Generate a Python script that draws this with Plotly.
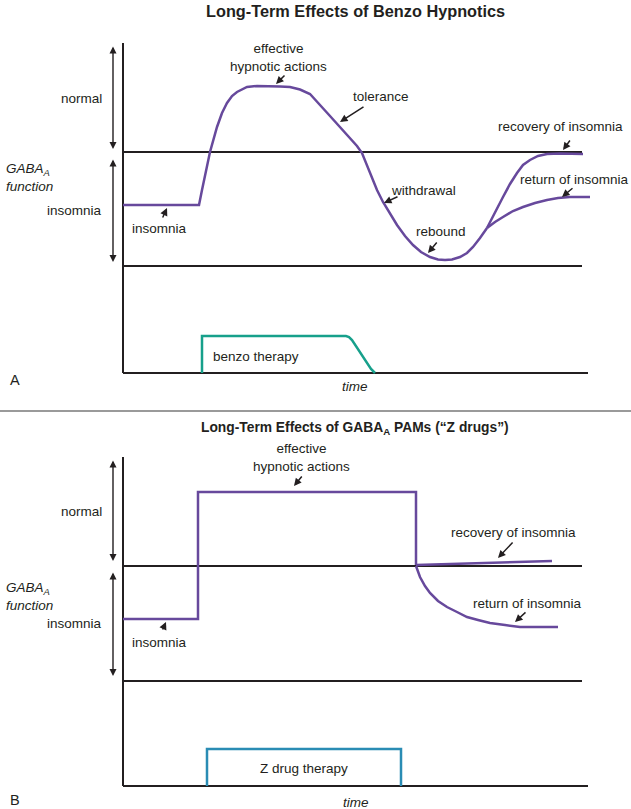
import plotly.graph_objects as go

# ---------------- data (time units, GABA-A function level units) ----------------
# Panel A : benzo hypnotics
a_time = [0, 76, 79, 82, 87, 94, 99, 104, 109, 114, 124, 134, 144, 157, 167, 177, 187,
          192, 197, 207, 217, 227, 234, 239, 243, 249, 254, 260, 267, 274, 282, 290,
          298, 307, 315, 322, 329, 337, 344, 350, 357, 364]
a_level = [61, 61, 76, 89, 114, 139, 153, 163, 170, 174, 179, 180, 180, 179.5, 179, 176.5, 172,
           167, 161, 150, 139, 128, 120, 113, 103, 89, 76, 64, 52, 41, 30, 21,
           14, 9, 6.5, 6, 6.5, 9, 13, 19, 28, 38]
a_recovery_time = [364, 372, 380, 387, 394, 400, 407, 415, 424, 437, 460]
a_recovery_level = [38, 54, 69, 82, 93, 101, 106, 110, 112, 112.5, 112]
a_return_time = [364, 372, 380, 390, 400, 412, 424, 435, 447, 467]
a_return_level = [38, 44, 49, 55, 59, 63, 66, 68, 69, 69]
a_therapy_time = [79, 79, 223, 226, 229, 233, 237, 241, 245, 248, 252]
a_therapy_level = [-107, -70, -70, -71, -74, -80, -87, -93, -99, -103, -107]
A_NORMAL, A_FLOOR, A_BASE, A_TOP = 114, 0, -107, 223

# Panel B : GABA-A PAMs ("Z drugs")
b_time = [0, 75, 75, 293, 293]
b_level = [62, 62, 189, 189, 116]
b_recovery_time = [293, 429]
b_recovery_level = [116, 120]
b_return_time = [293, 297, 302, 307, 315, 324, 334, 344, 355, 367, 382, 397, 435]
b_return_level = [115, 104, 95, 88, 80, 74, 69, 64, 61, 58, 56, 54, 54]
b_therapy_time = [84, 84, 278, 278]
b_therapy_level = [-105, -68, -68, -105]
B_NORMAL, B_FLOOR, B_BASE, B_TOP = 115, 0, -105, 224

T_LINE_END, T_BASE_END = 459, 465

PURPLE = '#67499c'
GREEN = '#17a08b'
BLUE = '#2a8cb4'
BLACK = '#231f20'
FONT = 'Liberation Sans, Arial, Helvetica, sans-serif'

fig = go.Figure()


def line(x, y, color, width, xa, ya):
    fig.add_trace(go.Scatter(x=x, y=y, mode='lines', xaxis=xa, yaxis=ya,
                             line=dict(color=color, width=width),
                             hoverinfo='skip', showlegend=False))


for xa, ya, normal, floor, base, top in [('x', 'y', A_NORMAL, A_FLOOR, A_BASE, A_TOP),
                                         ('x2', 'y2', B_NORMAL, B_FLOOR, B_BASE, B_TOP)]:
    line([0, 0], [base, top], BLACK, 2, xa, ya)
    line([0, T_LINE_END], [normal, normal], BLACK, 2, xa, ya)
    line([0, T_LINE_END], [floor, floor], BLACK, 2, xa, ya)
    line([0, T_BASE_END], [base, base], BLACK, 2, xa, ya)

line(a_therapy_time, a_therapy_level, GREEN, 2.5, 'x', 'y')
line(a_time, a_level, PURPLE, 2.5, 'x', 'y')
line(a_recovery_time, a_recovery_level, PURPLE, 2.5, 'x', 'y')
line(a_return_time, a_return_level, PURPLE, 2.5, 'x', 'y')

line(b_therapy_time, b_therapy_level, BLUE, 2.5, 'x2', 'y2')
line(b_time, b_level, PURPLE, 2.5, 'x2', 'y2')
line(b_recovery_time, b_recovery_level, PURPLE, 2.5, 'x2', 'y2')
line(b_return_time, b_return_level, PURPLE, 2.5, 'x2', 'y2')

annotations = []


def text(xa, ya, x, y, s, size=13.5, xanchor='center', yanchor='middle', align='center'):
    annotations.append(dict(xref=xa, yref=ya, x=x, y=y, text=s, showarrow=False,
                            xanchor=xanchor, yanchor=yanchor, align=align,
                            font=dict(family=FONT, size=size, color=BLACK)))


def pointer(xa, ya, x0, y0, x1, y1):
    annotations.append(dict(xref=xa, yref=ya, axref=xa, ayref=ya, x=x1, y=y1, ax=x0, ay=y0,
                            text='', showarrow=True, arrowhead=2, arrowsize=1.0,
                            arrowwidth=1.5, arrowcolor=BLACK, standoff=0, startstandoff=0))


def double_arrow(xa, ya, x, y0, y1):
    annotations.append(dict(xref=xa, yref=ya, axref=xa, ayref=ya, x=x, y=y1, ax=x, ay=y0,
                            text='', showarrow=True, arrowhead=2, startarrowhead=2,
                            arrowside='end+start', arrowsize=1.0, startarrowsize=1.0,
                            arrowwidth=1.4, arrowcolor=BLACK, standoff=0, startstandoff=0))


# ----- Panel A labels -----
text('x', 'y', 232, 255, '<b>Long-Term Effects of Benzo Hypnotics</b>', size=16.3)
text('x', 'y', 155, 209, 'effective<br>hypnotic actions')
pointer('x', 'y', 163, 192, 153, 182)
text('x', 'y', 258, 170, 'tolerance')
pointer('x', 'y', 242, 160, 217, 144)
text('x', 'y', 437, 140, 'recovery of insomnia')
pointer('x', 'y', 448, 127, 440, 116)
text('x', 'y', 300, 76, 'withdrawal')
pointer('x', 'y', 276, 70, 261, 63)
text('x', 'y', 451, 87, 'return of insomnia')
pointer('x', 'y', 451, 79, 439, 69)
text('x', 'y', 318, 35, 'rebound')
pointer('x', 'y', 315, 25, 305, 13)
text('x', 'y', 36, 38, 'insomnia')
pointer('x', 'y', 39, 47, 44, 58)
text('x', 'y', -19, 168, 'normal', xanchor='right')
text('x', 'y', -19, 56, 'insomnia', xanchor='right')
text('x', 'y', -119, 89, '<i>GABA<sub>A</sub></i><br><i>function</i>', xanchor='left', align='left')
double_arrow('x', 'y', -10, 221, 117)
double_arrow('x', 'y', -10, 108, 4)
text('x', 'y', 88, -90, 'benzo therapy', xanchor='left')
text('x', 'y', -115, -114, 'A', size=14.5, xanchor='left')
text('x', 'y', 232, -120, '<i>time</i>')

# ----- Panel B labels -----
text('x2', 'y2', 232, 252, '<b>Long-Term Effects of GABA<sub>A</sub> PAMs (“Z drugs”)</b>', size=13.8)
text('x2', 'y2', 178, 223, 'effective<br>hypnotic actions')
pointer('x2', 'y2', 180, 206, 171, 195)
text('x2', 'y2', 390, 149, 'recovery of insomnia')
pointer('x2', 'y2', 391, 140, 375, 123)
text('x2', 'y2', 404, 78, 'return of insomnia')
pointer('x2', 'y2', 404, 70, 392, 59)
text('x2', 'y2', 36, 39, 'insomnia')
pointer('x2', 'y2', 39, 50, 43, 59)
text('x2', 'y2', -19, 169, 'normal', xanchor='right')
text('x2', 'y2', -19, 58, 'insomnia', xanchor='right')
text('x2', 'y2', -119, 85, '<i>GABA<sub>A</sub></i><br><i>function</i>', xanchor='left', align='left')
double_arrow('x2', 'y2', -10, 222, 120)
double_arrow('x2', 'y2', -10, 110, 5)
text('x2', 'y2', 181, -87, 'Z drug therapy')
text('x2', 'y2', -115, -119, 'B', size=14.5, xanchor='left')
text('x2', 'y2', 233, -121, '<i>time</i>')

axis_common = dict(visible=False, showgrid=False, zeroline=False, fixedrange=True)
fig.update_layout(
    width=631, height=809, autosize=False,
    margin=dict(l=0, r=0, t=0, b=0),
    paper_bgcolor='white', plot_bgcolor='white',
    showlegend=False,
    xaxis=dict(domain=[0, 1], range=[-123, 508], anchor='y', **axis_common),
    yaxis=dict(domain=[404 / 809, 1], range=[-139, 266], anchor='x', **axis_common),
    xaxis2=dict(domain=[0, 1], range=[-123, 508], anchor='y2', **axis_common),
    yaxis2=dict(domain=[0, 394 / 809], range=[-128, 266], anchor='x2', **axis_common),
    annotations=annotations,
    shapes=[dict(type='line', xref='paper', yref='paper', x0=0, x1=1,
                 y0=398 / 809, y1=398 / 809, line=dict(color='#9a9a9a', width=2))],
)

fig.write_html("out.html", config={'displayModeBar': False, 'staticPlot': True},
               post_script="document.body.style.margin='0';")
